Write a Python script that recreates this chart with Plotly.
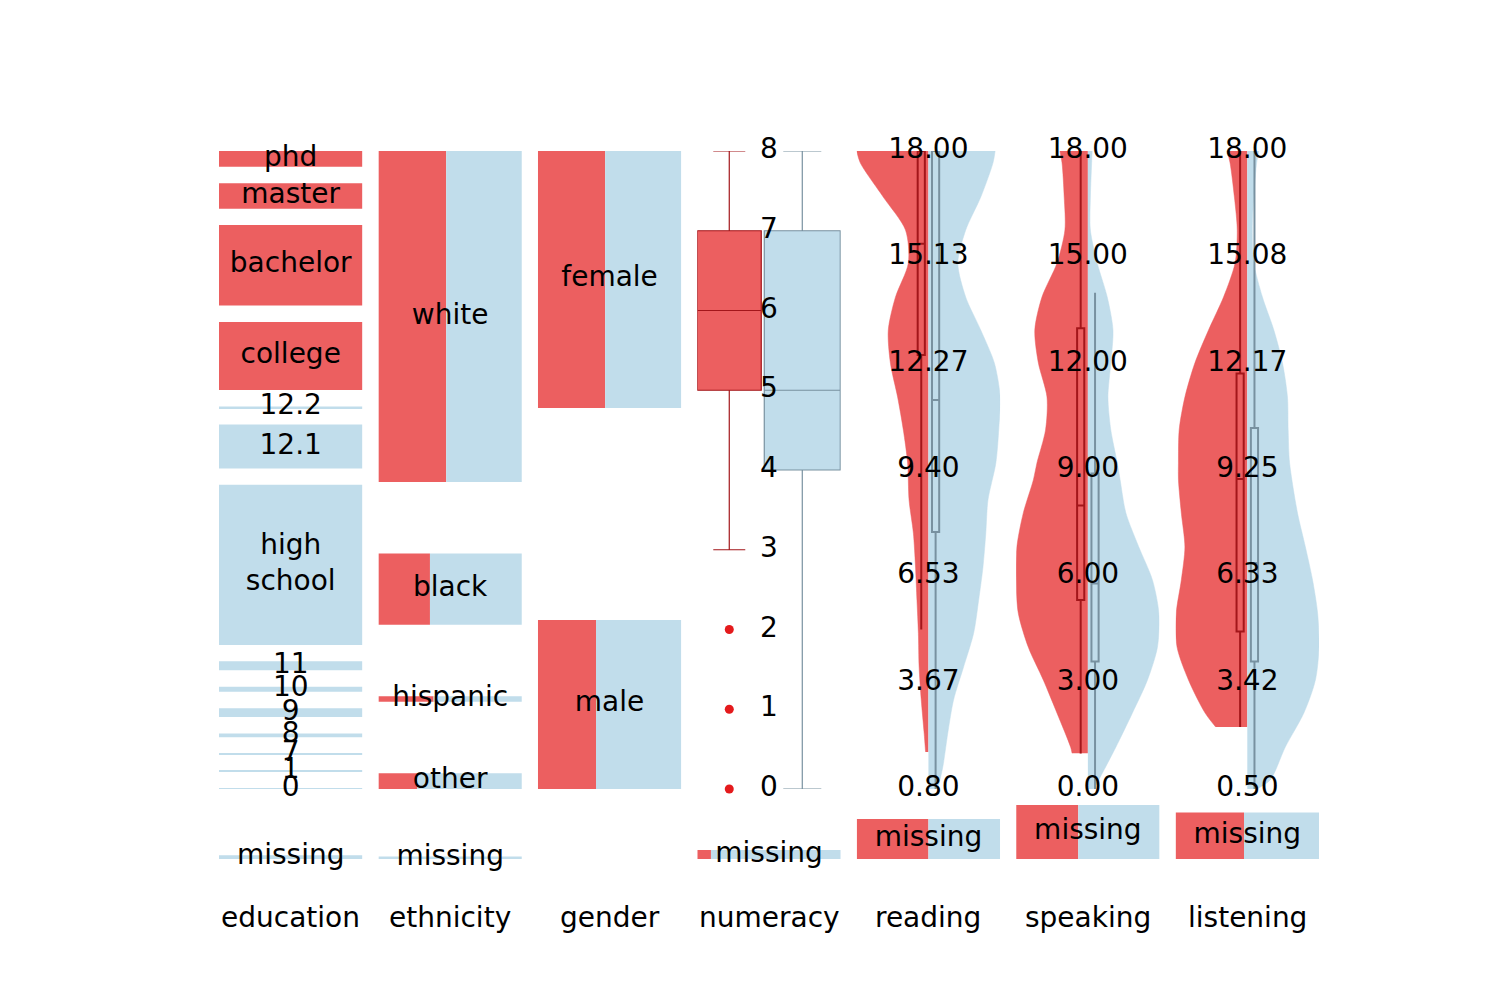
import plotly.graph_objects as go

# ---------------- data ----------------
# categorical columns: counts per category (top to bottom), split red / blue
EDU_CATS = ['phd', 'master', 'bachelor', 'college', '12.2', '12.1', 'high<br>school',
            '11', '10', '9', '8', '7', '1', '0']
EDU_RED = [37, 60, 189, 160, 0, 0, 0, 0, 0, 0, 0, 0, 0, 0]
EDU_BLUE = [0, 0, 0, 0, 4, 103, 376, 21, 12, 21, 9, 2, 2, 2]
EDU_MISSING = [0, 9]            # red, blue

ETH_CATS = ['white', 'black', 'hispanic', 'other']
ETH_RED = [367, 60, 5, 10]
ETH_BLUE = [410, 107, 8, 27]
ETH_MISSING = [0, 6]

GEN_CATS = ['female', 'male']
GEN_RED = [283, 161]
GEN_BLUE = [320, 236]

# numeracy: box statistics
NUM_TICK_VALS = [0, 1, 2, 3, 4, 5, 6, 7, 8]
NUM_TICK_TEXT = ['0', '1', '2', '3', '4', '5', '6', '7', '8']
NUM_RED_STATS = [3, 5, 6, 7, 8]      # lowerfence, q1, median, q3, upperfence
NUM_RED_OUTLIERS = [2, 1, 0]
NUM_BLUE_STATS = [0, 4, 5, 7, 8]
NUM_MISSING = [2, 19]

# reading
READ_TICK_VALS = [0.8, 3.6667, 6.5333, 9.4, 12.2667, 15.1333, 18.0]
READ_TICK_TEXT = ['0.80', '3.67', '6.53', '9.40', '12.27', '15.13', '18.00']
READ_RED_VALS = [18.00, 17.68, 16.76, 15.87, 14.98, 14.06, 13.17, 12.28, 11.37, 10.48,
                 9.59, 8.59, 7.70, 6.78, 5.89, 5.00, 4.09, 3.20, 2.31, 1.80]
READ_RED_DENS = [1.00, 0.95, 0.63, 0.32, 0.28, 0.46, 0.56, 0.53, 0.43, 0.35,
                 0.29, 0.27, 0.21, 0.18, 0.16, 0.14, 0.13, 0.10, 0.06, 0.04]
READ_BLUE_VALS = [18.00, 17.68, 16.76, 15.87, 14.98, 14.06, 13.17, 12.28, 11.37, 10.48,
                  9.59, 8.59, 7.70, 6.78, 5.89, 5.00, 4.09, 3.20, 2.31, 1.39, 0.80]
READ_BLUE_DENS = [0.93, 0.90, 0.73, 0.52, 0.41, 0.52, 0.73, 0.92, 1.00, 0.98,
                  0.94, 0.83, 0.80, 0.76, 0.70, 0.63, 0.49, 0.35, 0.27, 0.20, 0.13]
READ_RED_STATS = [5.1, 12.5, 15.5, 18.0, 18.0]
READ_BLUE_STATS = [0.8, 7.73, 11.29, 18.0, 18.0]
READ_MISSING = [47, 47]

# speaking
SPK_TICK_VALS = [0, 3, 6, 9, 12, 15, 18]
SPK_TICK_TEXT = ['0.00', '3.00', '6.00', '9.00', '12.00', '15.00', '18.00']
SPK_RED_VALS = [18.00, 17.66, 16.70, 15.77, 14.84, 13.88, 12.95, 12.02, 11.06, 10.13,
                9.20, 8.72, 7.79, 6.83, 5.90, 4.96, 4.00, 3.07, 2.14, 1.18, 1.01]
SPK_RED_DENS = [0.39, 0.36, 0.33, 0.32, 0.43, 0.64, 0.74, 0.69, 0.57, 0.59,
                0.71, 0.76, 0.90, 0.99, 1.00, 0.97, 0.83, 0.62, 0.43, 0.24, 0.22]
SPK_BLUE_VALS = [18.00, 16.70, 15.77, 14.84, 13.88, 12.95, 12.02, 11.06, 10.13, 9.20,
                 8.72, 7.79, 6.83, 5.90, 4.96, 4.00, 3.07, 2.14, 1.18, 0.25, 0.00]
SPK_BLUE_DENS = [0.06, 0.035, 0.035, 0.13, 0.27, 0.35, 0.32, 0.28, 0.32, 0.41,
                 0.45, 0.53, 0.71, 0.90, 0.99, 0.97, 0.83, 0.62, 0.39, 0.15, 0.08]
SPK_RED_STATS = [1.0, 5.33, 8.0, 13.0, 18.0]
SPK_BLUE_STATS = [0.0, 3.6, 5.8, 8.9, 14.0]
SPK_MISSING = [55, 72]

# listening
LIS_TICK_VALS = [0.5, 3.4167, 6.3333, 9.25, 12.1667, 15.0833, 18.0]
LIS_TICK_TEXT = ['0.50', '3.42', '6.33', '9.25', '12.17', '15.08', '18.00']
LIS_RED_VALS = [18.00, 17.67, 16.74, 15.83, 14.93, 14.00, 13.09, 12.19, 11.25, 10.35,
                9.44, 8.98, 8.07, 7.14, 6.23, 5.33, 4.40, 3.49, 2.59, 2.20]
LIS_RED_DENS = [0.28, 0.24, 0.18, 0.14, 0.17, 0.33, 0.54, 0.73, 0.87, 0.95,
                0.96, 0.96, 0.92, 0.87, 0.92, 0.99, 0.98, 0.82, 0.59, 0.44]
LIS_BLUE_VALS = [18.00, 17.67, 16.74, 15.83, 14.93, 14.00, 13.09, 12.19, 11.25, 10.35,
                 9.44, 8.07, 7.14, 6.23, 5.33, 4.40, 3.49, 2.59, 1.65, 0.75, 0.50]
LIS_BLUE_DENS = [0.16, 0.13, 0.09, 0.07, 0.09, 0.21, 0.37, 0.49, 0.56, 0.57,
                 0.59, 0.70, 0.81, 0.91, 0.98, 1.00, 0.95, 0.79, 0.53, 0.32, 0.13]
LIS_RED_STATS = [2.2, 4.82, 9.0, 11.9, 18.0]
LIS_BLUE_STATS = [0.5, 4.0, 6.7, 10.4, 18.0]
LIS_MISSING = [52, 57]

COLUMN_NAMES = ['education', 'ethnicity', 'gender', 'numeracy', 'reading', 'speaking', 'listening']

# ---------------- styles / geometry ----------------
RED = '#EC5F60'
BLUE = '#C1DDEB'
RED_LINE = '#A3161A'
BLUE_LINE = '#7891A0'
OUTLIER = '#E41A1C'
FONT = 'DejaVu Sans'
FS = 28

FIG_W, FIG_H = 1500, 1000
OFF = 8.0                               # page body margin
COL_LEFT, COL_W, COL_STEP = 219.0 - OFF, 143.43, 159.43
TOP_PX, MAIN_BOT_PX, MISS_BOT_PX = 151.0 - OFF, 789.0 - OFF, 859.0 - OFF
LABEL_PX = 917.0 - OFF
PX_PER_COUNT = 0.426
SPAN = MAIN_BOT_PX - TOP_PX            # main region height
YTOP = MISS_BOT_PX - TOP_PX            # top of shared pixel-unit axis
HALF_MAX = 0.5                         # max half-violin width (column fraction)

fig = go.Figure()
TXT = dict(family=FONT, size=FS, color='black')


def xname(i):
    return 'x' if i == 0 else f'x{i + 1}'


def cat_layout(totals):
    h = [t * PX_PER_COUNT for t in totals]
    gap = (SPAN - sum(h)) / (len(h) - 1)
    centers, y = [], YTOP
    for hh in h:
        centers.append(y - hh / 2)
        y -= hh + gap
    return centers, h


def add_split_bars(xa, red, blue, centers, heights):
    tot = [r + b for r, b in zip(red, blue)]
    fr = [r / t for r, t in zip(red, tot)]
    fb = [b / t for b, t in zip(blue, tot)]
    fig.add_trace(go.Bar(orientation='h', y=centers, x=fr, base=[0] * len(fr), width=heights,
                         marker=dict(color=RED, line=dict(width=0)), xaxis=xa, yaxis='y',
                         hoverinfo='skip', showlegend=False))
    fig.add_trace(go.Bar(orientation='h', y=centers, x=fb, base=fr, width=heights,
                         marker=dict(color=BLUE, line=dict(width=0)), xaxis=xa, yaxis='y',
                         hoverinfo='skip', showlegend=False))


def add_text(xa, ya, ys, labels):
    fig.add_trace(go.Scatter(x=[0.5] * len(ys), y=ys, text=labels, mode='text',
                             textfont=TXT, textposition='middle center', xaxis=xa, yaxis=ya,
                             cliponaxis=False, hoverinfo='skip', showlegend=False))


def add_missing(xa, miss):
    h = sum(miss) * PX_PER_COUNT
    add_split_bars(xa, [miss[0]], [miss[1]], [h / 2], [h])
    add_text(xa, 'y', [h / 2], ['missing'])


# categorical columns
for i, (cats, red, blue, miss) in enumerate([
        (EDU_CATS, EDU_RED, EDU_BLUE, EDU_MISSING),
        (ETH_CATS, ETH_RED, ETH_BLUE, ETH_MISSING),
        (GEN_CATS, GEN_RED, GEN_BLUE, None)]):
    xa = xname(i)
    totals = [r + b for r, b in zip(red, blue)]
    centers, heights = cat_layout(totals)
    add_split_bars(xa, red, blue, centers, heights)
    if miss is not None:
        h = sum(miss) * PX_PER_COUNT
        add_split_bars(xa, [miss[0]], [miss[1]], [h / 2], [h])
    add_text(xa, 'y', centers, cats)
    if miss is not None:
        add_text(xa, 'y', [sum(miss) * PX_PER_COUNT / 2], ['missing'])


def add_box(xa, ya, pos, width, stats, fill, line, lw, ww):
    fig.add_trace(go.Box(x=[pos], lowerfence=[stats[0]], q1=[stats[1]], median=[stats[2]],
                         q3=[stats[3]], upperfence=[stats[4]], width=width, whiskerwidth=ww,
                         fillcolor=fill, line=dict(color=line, width=lw), boxpoints=False,
                         xaxis=xa, yaxis=ya, hoverinfo='skip', showlegend=False))


# numeracy
xa = xname(3)
add_box(xa, 'y2', 0.223, 0.446, NUM_RED_STATS, RED, RED_LINE, 1.2, 0.5)
add_box(xa, 'y2', 0.732, 0.53, NUM_BLUE_STATS, BLUE, BLUE_LINE, 1.2, 0.5)
fig.add_trace(go.Scatter(x=[0.223] * len(NUM_RED_OUTLIERS), y=NUM_RED_OUTLIERS, mode='markers',
                         marker=dict(color=OUTLIER, size=9), xaxis=xa, yaxis='y2',
                         cliponaxis=False, hoverinfo='skip', showlegend=False))
add_text(xa, 'y2', NUM_TICK_VALS, NUM_TICK_TEXT)
add_missing(xa, NUM_MISSING)


def add_half_violin(xa, ya, vals, dens, sign, color):
    fig.add_trace(go.Scatter(x=[0.5] * len(vals), y=vals, mode='lines',
                             line=dict(width=0, color=color), xaxis=xa, yaxis=ya,
                             hoverinfo='skip', showlegend=False))
    edge = [0.5 + sign * d * HALF_MAX for d in dens]
    fig.add_trace(go.Scatter(x=edge, y=vals, mode='lines', fill='tonextx', fillcolor=color,
                             line=dict(width=0.5, color=color, shape='spline', smoothing=0.8),
                             xaxis=xa, yaxis=ya, hoverinfo='skip', showlegend=False))


violins = [
    (READ_RED_VALS, READ_RED_DENS, READ_BLUE_VALS, READ_BLUE_DENS, READ_RED_STATS,
     READ_BLUE_STATS, READ_TICK_VALS, READ_TICK_TEXT, READ_MISSING),
    (SPK_RED_VALS, SPK_RED_DENS, SPK_BLUE_VALS, SPK_BLUE_DENS, SPK_RED_STATS,
     SPK_BLUE_STATS, SPK_TICK_VALS, SPK_TICK_TEXT, SPK_MISSING),
    (LIS_RED_VALS, LIS_RED_DENS, LIS_BLUE_VALS, LIS_BLUE_DENS, LIS_RED_STATS,
     LIS_BLUE_STATS, LIS_TICK_VALS, LIS_TICK_TEXT, LIS_MISSING),
]
for k, (rv, rd, bv, bd, rs, bs, tv, tt, miss) in enumerate(violins):
    xa = xname(4 + k)
    ya_base = f'y{3 + k}'
    ya_over = f'y{6 + k}'
    add_half_violin(xa, ya_base, rv, rd, -1, RED)
    add_half_violin(xa, ya_base, bv, bd, 1, BLUE)
    add_box(xa, ya_over, 0.45, 0.05, rs, 'rgba(0,0,0,0)', RED_LINE, 2, 0)
    add_box(xa, ya_over, 0.55, 0.05, bs, 'rgba(0,0,0,0)', BLUE_LINE, 2, 0)
    add_text(xa, ya_over, tv, tt)
    add_missing(xa, miss)

# ---------------- layout ----------------
layout = dict(width=FIG_W, height=FIG_H, autosize=False,
              margin=dict(l=0, r=0, t=0, b=0, pad=0),
              paper_bgcolor='white', plot_bgcolor='rgba(0,0,0,0)',
              barmode='overlay', boxmode='overlay', showlegend=False,
              font=dict(family=FONT, size=FS, color='black'))
for i in range(7):
    left = (COL_LEFT + i * COL_STEP) / FIG_W
    key = 'xaxis' if i == 0 else f'xaxis{i + 1}'
    layout[key] = dict(domain=[left, left + COL_W / FIG_W], range=[0, 1], visible=False,
                       fixedrange=True)
main_dom = [1 - MAIN_BOT_PX / FIG_H, 1 - TOP_PX / FIG_H]
layout['yaxis'] = dict(domain=[1 - MISS_BOT_PX / FIG_H, 1 - TOP_PX / FIG_H], range=[0, YTOP],
                       visible=False, fixedrange=True)
layout['yaxis2'] = dict(domain=main_dom, range=[NUM_TICK_VALS[0], NUM_TICK_VALS[-1]],
                        anchor='x4', visible=False, fixedrange=True)
ranges = [(READ_TICK_VALS[0], READ_TICK_VALS[-1]), (SPK_TICK_VALS[0], SPK_TICK_VALS[-1]),
          (LIS_TICK_VALS[0], LIS_TICK_VALS[-1])]
for k, r in enumerate(ranges):
    layout[f'yaxis{3 + k}'] = dict(domain=main_dom, range=list(r), anchor=f'x{5 + k}',
                                   visible=False, fixedrange=True)
    layout[f'yaxis{6 + k}'] = dict(range=list(r), anchor=f'x{5 + k}', overlaying=f'y{3 + k}',
                                   visible=False, fixedrange=True)

layout['annotations'] = [
    dict(text=name, xref='paper', yref='paper',
         x=(COL_LEFT + i * COL_STEP + COL_W / 2) / FIG_W, y=1 - LABEL_PX / FIG_H,
         xanchor='center', yanchor='middle', showarrow=False, font=TXT)
    for i, name in enumerate(COLUMN_NAMES)
]
fig.update_layout(**layout)
fig.write_html('out.html')
